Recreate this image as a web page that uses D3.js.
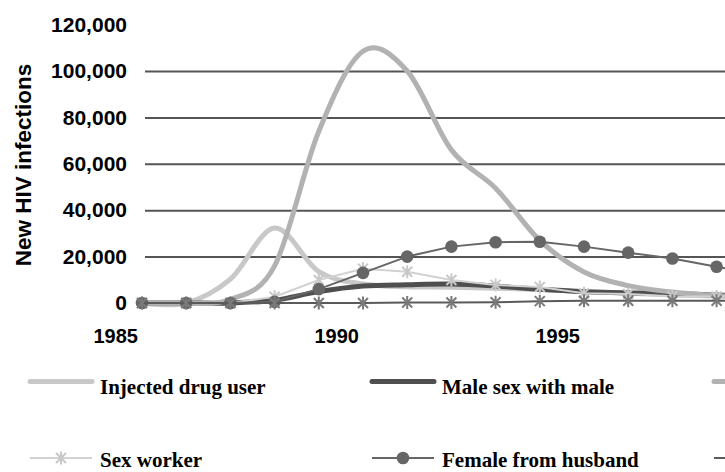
<!DOCTYPE html>
<html><head><meta charset="utf-8">
<script src="https://cdn.jsdelivr.net/npm/d3@7"></script>
<style>
html,body{margin:0;padding:0;background:#fff;overflow:hidden}
svg{display:block}
</style></head><body>
<svg id="chart" width="725" height="472"></svg>
<script>
// ---- data ----
const years = [1985,1986,1987,1988,1989,1990,1991,1992,1993,1994,1995,1996,1997,1998,1999];
const injectedDrugUser  = [0,0,10300,32300,13500,8200,7000,6800,6400,5800,5000,4200,3500,3000,2600];
const maleSexWithMale   = [0,0,0,1200,4900,7300,7900,8200,7300,5900,4900,4400,4100,3400,3000];
const clientOfSexWorker = [0,0,1500,16000,74000,108500,100000,66000,49500,27000,13400,7500,4700,3200,2500];
const sexWorker         = [0,0,0,2700,9900,14800,13500,9900,7800,6900,4200,3900,2900,2800,2700];
const femaleFromHusband = [0,0,0,500,6000,13000,20000,24300,26200,26400,24300,21700,19200,15600,12500];
const husbandFromWife   = [0,0,0,0,0,0,200,200,300,800,1000,1000,1000,1000,1000];
const seriesNames = ["Injected drug user","Male sex with male","Client of sex worker","Sex worker","Female from husband","Husband from wife"];
const yTickValues = [0,20000,40000,60000,80000,100000,120000];
const gridValues  = [20000,40000,60000,80000,100000];
const xTickValues = [1985,1990,1995];

const svg = d3.select("#chart");
const W = 725;
const x = d3.scaleLinear().domain([1985,1999]).range([142, 142 + 14*44.2]);
const y = d3.scaleLinear().domain([0,120000]).range([303, 24.6]);

// gridlines
const grid = svg.append("g").attr("transform","translate(145,0)")
  .call(d3.axisLeft(y).tickValues(gridValues).tickSize(-(W-145)).tickFormat(""));
grid.select(".domain").remove();
grid.selectAll("line").attr("stroke","#555").attr("stroke-width",2);

// y labels
const yax = svg.append("g").attr("transform","translate(145,0)")
  .call(d3.axisLeft(y).tickValues(yTickValues).tickSize(0).tickPadding(18).tickFormat(d3.format(",")));
yax.select(".domain").remove();
yax.selectAll("text").attr("font-family","'Liberation Sans',Arial,sans-serif")
  .attr("font-weight","bold").attr("font-size",21).attr("fill","#000");

// x labels
const xax = svg.append("g").attr("transform","translate(0,303)")
  .call(d3.axisBottom(x).tickValues(xTickValues).tickSize(0).tickFormat(d3.format("d")));
xax.select(".domain").remove();
xax.selectAll("text").attr("y",40).attr("dy",0).attr("x",-4.5).attr("text-anchor","end")
  .attr("font-family","'Liberation Sans',Arial,sans-serif")
  .attr("font-weight","bold").attr("font-size",20).attr("fill","#000");

// y title
svg.append("text").attr("transform","translate(31,165) rotate(-90)")
  .attr("text-anchor","middle").attr("font-family","'Liberation Sans',Arial,sans-serif")
  .attr("font-weight","bold").attr("font-size",22.5).attr("fill","#000")
  .text("New HIV infections");

const smooth = d3.line().x((d,i)=>x(years[i])).y(d=>y(d)).curve(d3.curveCardinal.tension(0));
const straight = d3.line().x((d,i)=>x(years[i])).y(d=>y(d));

const starPath = "M-5,-5L5,5M-5,5L5,-5M0,-6.5L0,6.5";

const series = [
  {name:seriesNames[0], values:injectedDrugUser,  color:"#c8c8c8", width:5, smooth:true},
  {name:seriesNames[1], values:maleSexWithMale,   color:"#4f4f4f", width:5, smooth:true},
  {name:seriesNames[2], values:clientOfSexWorker, color:"#b2b2b2", width:5, smooth:true},
  {name:seriesNames[3], values:sexWorker,         color:"#d2d2d2", width:2, smooth:false, marker:"star", mcolor:"#c8c8c8"},
  {name:seriesNames[4], values:femaleFromHusband, color:"#666666", width:2, smooth:false, marker:"circle", mcolor:"#666666"},
  {name:seriesNames[5], values:husbandFromWife,   color:"#5a5a5a", width:2, smooth:false, marker:"star", mcolor:"#7a7a7a"}
];

series.forEach(s=>{
  svg.append("path").attr("d",(s.smooth?smooth:straight)(s.values))
    .attr("fill","none").attr("stroke",s.color).attr("stroke-width",s.width)
    .attr("stroke-linejoin","round").attr("stroke-linecap","round");
  if(s.marker==="circle"){
    svg.append("g").selectAll("circle").data(s.values).join("circle")
      .attr("cx",(d,i)=>x(years[i])).attr("cy",d=>y(d)).attr("r",6.3)
      .attr("fill",s.mcolor);
  } else if(s.marker==="star"){
    svg.append("g").selectAll("path").data(s.values).join("path")
      .attr("transform",(d,i)=>`translate(${x(years[i])},${y(d)})`)
      .attr("d",starPath).attr("fill","none").attr("stroke",s.mcolor).attr("stroke-width",2);
  }
});

// legend
const legendRows = [381.5, 458];
const legendCols = [30, 372, 714];
const legendItems = [
  {s:series[0], col:0, row:0, label:true},
  {s:series[1], col:1, row:0, label:true},
  {s:series[2], col:2, row:0, label:false},
  {s:series[3], col:0, row:1, label:true},
  {s:series[4], col:1, row:1, label:true},
  {s:series[5], col:2, row:1, label:false}
];
legendItems.forEach(it=>{
  const g = svg.append("g").attr("transform",`translate(${legendCols[it.col]},${legendRows[it.row]})`);
  g.append("line").attr("x1",0).attr("x2",62).attr("y1",0).attr("y2",0)
    .attr("stroke",it.s.color).attr("stroke-width",it.s.width)
    .attr("stroke-linecap", it.s.width>3 ? "round" : "butt");
  if(it.s.marker==="circle"){
    g.append("circle").attr("cx",31).attr("cy",0).attr("r",6.3).attr("fill",it.s.mcolor);
  } else if(it.s.marker==="star"){
    g.append("path").attr("transform","translate(31,0)").attr("d",starPath)
      .attr("fill","none").attr("stroke",it.s.mcolor).attr("stroke-width",2);
  }
  if(it.label){
    g.append("text").attr("x",70).attr("y",it.row===1 ? 9 : 12)
      .attr("font-family","'Liberation Serif','Times New Roman',serif")
      .attr("font-weight","bold").attr("font-size",21).attr("fill","#000")
      .text(it.s.name);
  }
});
</script>
</body></html>
